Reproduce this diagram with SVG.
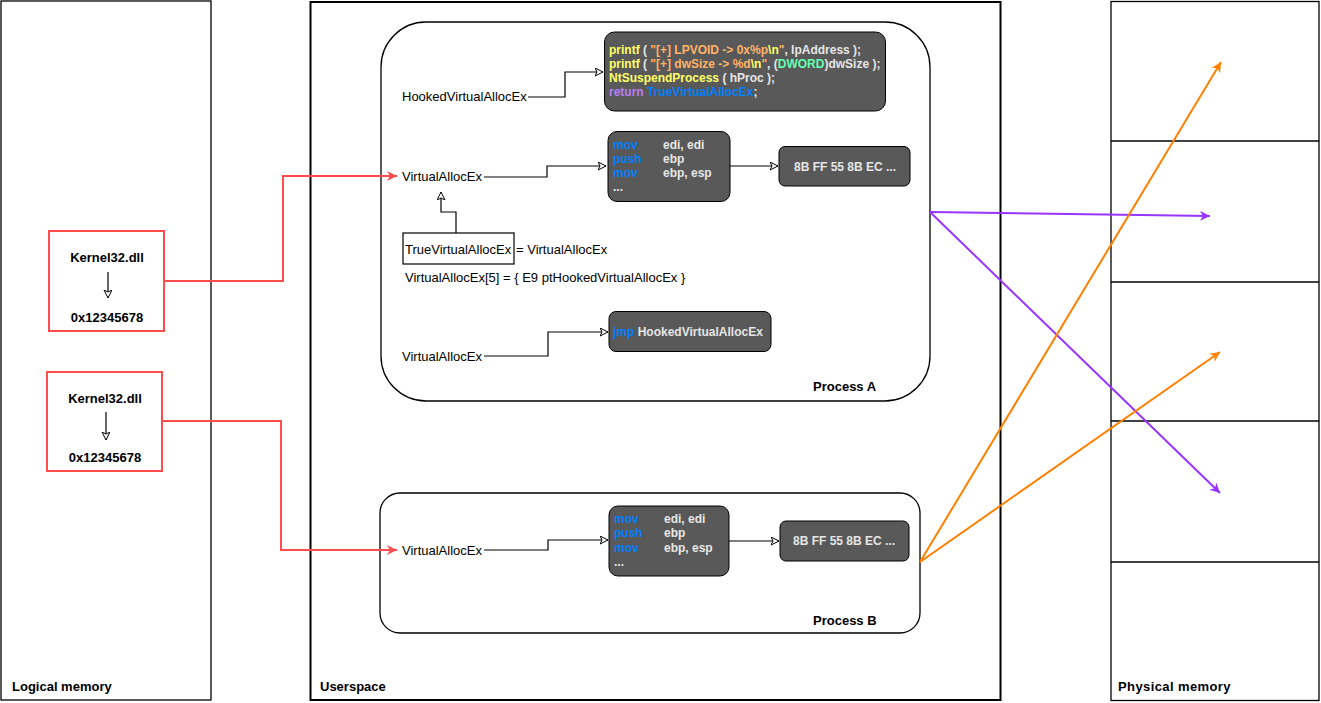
<svg xmlns="http://www.w3.org/2000/svg" width="1321" height="703" viewBox="0 0 1321 703">
<defs>
<style>
.t{font-family:"Liberation Sans",Arial,sans-serif;font-size:13px;fill:#000}
.b{font-weight:bold}
.code{font-family:"Liberation Sans",Arial,sans-serif;font-size:12px;font-weight:bold;fill:#E6E6E6}
.kw{fill:#007FFF}
.yl{fill:#FFFF66}
.or{fill:#FFB366}
.tl{fill:#66FFB3}
.pu{fill:#B980F5}
.dark{fill:#595959;stroke:#000;stroke-width:1}
.cont{fill:none;stroke:#000;stroke-width:1.3}
.sk{fill:none;stroke:#000;stroke-width:1.2}
.red{fill:none;stroke:#FF4D4D;stroke-width:2}
.orange{fill:none;stroke:#FF8000;stroke-width:2}
.purple{fill:none;stroke:#9933FF;stroke-width:2}
</style>
<marker id="open" markerWidth="10" markerHeight="10" refX="8" refY="4" orient="auto" markerUnits="userSpaceOnUse">
<path d="M0,0 L8,4 L0,8 L2,4 Z" fill="#fff" stroke="#000" stroke-width="1"/>
</marker>
<marker id="ar" markerWidth="12" markerHeight="12" refX="10" refY="5" orient="auto" markerUnits="userSpaceOnUse">
<path d="M0,0 L10,5 L0,10 L3,5 Z" fill="#FF4D4D"/>
</marker>
<marker id="ao" markerWidth="12" markerHeight="12" refX="10" refY="5" orient="auto" markerUnits="userSpaceOnUse">
<path d="M0,0 L10,5 L0,10 L3,5 Z" fill="#FF8000"/>
</marker>
<marker id="ap" markerWidth="12" markerHeight="12" refX="10" refY="5" orient="auto" markerUnits="userSpaceOnUse">
<path d="M0,0 L10,5 L0,10 L3,5 Z" fill="#9933FF"/>
</marker>
</defs>
<rect width="1321" height="703" fill="#fff"/>

<g id="logical-memory">
<rect x="1" y="1" width="210" height="699" class="cont"/>
<text x="12" y="691" class="t b" font-size="13.5">Logical memory</text>
</g>
<g id="userspace">
<rect x="310.5" y="2" width="690" height="698" fill="none" stroke="#000" stroke-width="2"/>
<text x="320" y="691" class="t b" font-size="13.5">Userspace</text>
</g>
<g id="physical-memory">
<rect x="1111" y="1.5" width="208" height="699" class="cont"/>
<line x1="1111" y1="141" x2="1319" y2="141" class="cont"/>
<line x1="1111" y1="282" x2="1319" y2="282" class="cont"/>
<line x1="1111" y1="421" x2="1319" y2="421" class="cont"/>
<line x1="1111" y1="562" x2="1319" y2="562" class="cont"/>
<text x="1118" y="691" class="t b" font-size="13" letter-spacing="0.4">Physical memory</text>
</g>

<g id="process-a">
<rect x="381" y="22" width="549" height="379" rx="45" ry="45" class="cont"/>
<text x="813" y="391" class="t b" font-size="13.5">Process A</text>
</g>
<g id="process-b">
<rect x="380" y="493" width="540" height="140" rx="20" ry="20" class="cont"/>
<text x="813" y="625" class="t b" font-size="13.5">Process B</text>
</g>

<g id="kernel32-1">
<rect x="49" y="231" width="115" height="100" fill="none" stroke="#FF4D4D" stroke-width="2"/>
<text x="107" y="262" class="t b" font-size="12.5" text-anchor="middle">Kernel32.dll</text>
<line x1="108" y1="272" x2="108" y2="298" class="sk" marker-end="url(#open)"/>
<text x="107" y="322" class="t b" font-size="12.5" text-anchor="middle">0x12345678</text>
</g>
<g id="kernel32-2">
<rect x="47" y="372" width="115" height="99" fill="none" stroke="#FF4D4D" stroke-width="2"/>
<text x="105" y="403" class="t b" font-size="12.5" text-anchor="middle">Kernel32.dll</text>
<line x1="106" y1="412" x2="106" y2="440" class="sk" marker-end="url(#open)"/>
<text x="105" y="462" class="t b" font-size="12.5" text-anchor="middle">0x12345678</text>
</g>

<g id="hooked-label">
<text x="402" y="100.5" class="t">HookedVirtualAllocEx</text>
</g>
<g id="hooked-code">
<rect x="604.5" y="32" width="281" height="79" rx="10" ry="10" class="dark"/>
<text x="609" y="54" class="code"><tspan class="yl">printf</tspan> ( <tspan class="or">"[+] LPVOID -&gt; 0x%p</tspan><tspan class="yl">\n</tspan><tspan class="or">"</tspan>, lpAddress );</text>
<text x="609" y="68" class="code"><tspan class="yl">printf</tspan> ( <tspan class="or">"[+] dwSize -&gt; %d</tspan><tspan class="yl">\n</tspan><tspan class="or">"</tspan>, (<tspan class="tl">DWORD</tspan>)dwSize );</text>
<text x="609" y="82" class="code"><tspan class="yl">NtSuspendProcess</tspan> ( hProc );</text>
<text x="609" y="96" class="code"><tspan class="pu">return</tspan> <tspan class="kw">TrueVirtualAllocEx</tspan>;</text>
</g>

<g id="vae-a1">
<text x="402" y="180.5" class="t">VirtualAllocEx</text>
</g>
<g id="asm-a">
<rect x="608" y="131.5" width="122" height="70" rx="9" ry="9" class="dark"/>
<text x="613" y="149" class="code kw">mov</text><text x="663" y="149" class="code">edi, edi</text>
<text x="613" y="163" class="code kw">push</text><text x="663" y="163" class="code">ebp</text>
<text x="613" y="177" class="code kw">mov</text><text x="663" y="177" class="code">ebp, esp</text>
<text x="613" y="191" class="code">...</text>
</g>
<g id="bytes-a">
<rect x="779" y="146.5" width="131" height="39.5" rx="6" ry="6" class="dark"/>
<text x="845" y="170.5" class="code" text-anchor="middle">8B FF 55 8B EC ...</text>
</g>

<g id="true-vae">
<rect x="403" y="233" width="111" height="31" fill="#fff" stroke="#000" stroke-width="1.2"/>
<text x="405" y="253.5" class="t">TrueVirtualAllocEx</text>
<text x="516" y="253.5" class="t">= VirtualAllocEx</text>
</g>
<g id="patch-note">
<text x="405" y="281.5" class="t">VirtualAllocEx[5] = { E9 ptHookedVirtualAllocEx }</text>
</g>

<g id="vae-a2">
<text x="402" y="360.5" class="t">VirtualAllocEx</text>
</g>
<g id="jmp-box">
<rect x="609" y="311.5" width="162" height="40" rx="7" ry="7" class="dark"/>
<text x="613" y="335.5" class="code"><tspan class="kw">jmp</tspan> HookedVirtualAllocEx</text>
</g>

<g id="vae-b">
<text x="402" y="554.5" class="t">VirtualAllocEx</text>
</g>
<g id="asm-b">
<rect x="609" y="506" width="120" height="70" rx="9" ry="9" class="dark"/>
<text x="614" y="523" class="code kw">mov</text><text x="664" y="523" class="code">edi, edi</text>
<text x="614" y="537" class="code kw">push</text><text x="664" y="537" class="code">ebp</text>
<text x="614" y="552" class="code kw">mov</text><text x="664" y="552" class="code">ebp, esp</text>
<text x="614" y="566" class="code">...</text>
</g>
<g id="bytes-b">
<rect x="780" y="521" width="129" height="40" rx="6" ry="6" class="dark"/>
<text x="844" y="545" class="code" text-anchor="middle">8B FF 55 8B EC ...</text>
</g>

<g id="connectors">
<polyline points="164,281 283,281 283,176 397,176" class="red" marker-end="url(#ar)"/>
<polyline points="162,421 281,421 281,550 397,550" class="red" marker-end="url(#ar)"/>
<polyline points="528,97 565,97 565,72 603,72" class="sk" marker-end="url(#open)"/>
<polyline points="484,177 547,177 547,166 606,166" class="sk" marker-end="url(#open)"/>
<polyline points="730,166 778,166" class="sk" marker-end="url(#open)"/>
<polyline points="456,233 456,212 441,212 441,192" class="sk" marker-end="url(#open)"/>
<polyline points="484,356 548,356 548,332 608,332" class="sk" marker-end="url(#open)"/>
<polyline points="484,550 548,550 548,540 608,540" class="sk" marker-end="url(#open)"/>
<polyline points="729,541 779,541" class="sk" marker-end="url(#open)"/>
<line x1="930" y1="212" x2="1210" y2="216" class="purple" marker-end="url(#ap)"/>
<line x1="930" y1="212" x2="1220" y2="493" class="purple" marker-end="url(#ap)"/>
<line x1="920" y1="562" x2="1221" y2="62" class="orange" marker-end="url(#ao)"/>
<line x1="920" y1="562" x2="1220" y2="352" class="orange" marker-end="url(#ao)"/>
</g>
</svg>
